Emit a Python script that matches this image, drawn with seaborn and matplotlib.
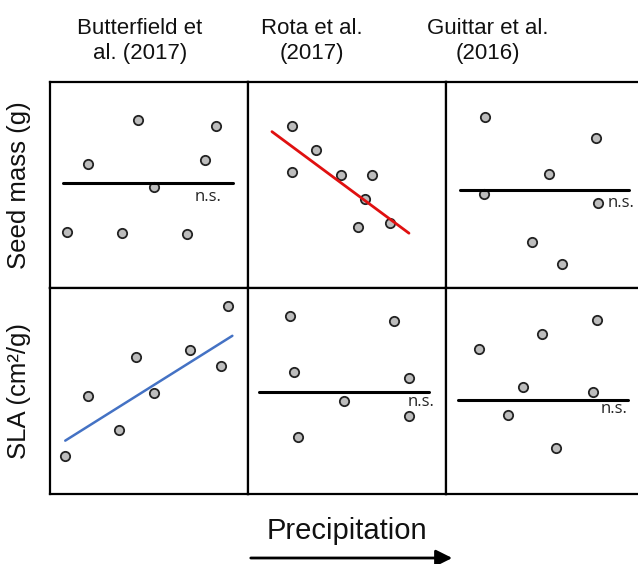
import matplotlib
matplotlib.use("Agg")
import matplotlib.pyplot as plt
import seaborn as sns
import pandas as pd

# ---- data (panel units 0-100 on both axes) ----
studies = ["Butterfield et\nal. (2017)", "Rota et al.\n(2017)", "Guittar et al.\n(2016)"]
traits = ["Seed mass (g)", "SLA (cm²/g)"]
x_label = "Precipitation"

bf_seed_x = [8.4, 19.2, 36.5, 44.6, 52.7, 69.3, 78.3, 83.8]
bf_seed_y = [27.0, 60.2, 26.6, 81.6, 49.2, 26.2, 62.1, 78.8]
rota_seed_x = [22.1, 22.1, 34.5, 47.0, 55.7, 59.3, 62.8, 71.7]
rota_seed_y = [78.8, 56.5, 67.0, 54.9, 29.8, 43.0, 55.0, 31.4]
gu_seed_x = [19.0, 19.9, 43.4, 52.2, 58.6, 75.8, 76.6]
gu_seed_y = [45.5, 83.2, 22.5, 55.3, 11.7, 72.7, 41.1]
bf_sla_x = [7.6, 19.2, 35.0, 43.4, 52.7, 70.7, 86.5, 90.1]
bf_sla_y = [18.4, 47.7, 31.1, 66.3, 49.2, 69.8, 62.1, 91.3]
rota_sla_x = [21.2, 23.4, 25.3, 48.3, 73.9, 81.3, 81.5]
rota_sla_y = [86.4, 59.1, 27.5, 45.3, 84.0, 56.2, 37.9]
gu_sla_x = [16.5, 31.2, 38.7, 48.5, 55.6, 74.1, 76.1]
gu_sla_y = [70.4, 38.5, 51.8, 77.8, 22.5, 49.7, 84.5]

# trend lines (endpoints as read)
bf_seed_line_x = [6.7, 92.6]; bf_seed_line_y = [50.8, 50.8]
rota_seed_line_x = [12.1, 81.3]; rota_seed_line_y = [75.9, 26.6]
gu_seed_line_x = [7.1, 92.3]; gu_seed_line_y = [47.6, 47.6]
bf_sla_line_x = [7.7, 92.1]; bf_sla_line_y = [25.9, 76.8]
rota_sla_line_x = [5.6, 91.6]; rota_sla_line_y = [49.7, 49.7]
gu_sla_line_x = [6.2, 92.1]; gu_sla_line_y = [45.5, 45.5]

# significance labels: (text, x, y) or None
ns_labels = [
    [("n.s.", 73.2, 44.2), None, ("n.s.", 81.8, 41.3)],
    [None, ("n.s.", 80.8, 44.7), ("n.s.", 78.3, 41.3)],
]

points = [
    [(bf_seed_x, bf_seed_y), (rota_seed_x, rota_seed_y), (gu_seed_x, gu_seed_y)],
    [(bf_sla_x, bf_sla_y), (rota_sla_x, rota_sla_y), (gu_sla_x, gu_sla_y)],
]
lines = [
    [(bf_seed_line_x, bf_seed_line_y, "black", 2.2),
     (rota_seed_line_x, rota_seed_line_y, "#e01010", 2.0),
     (gu_seed_line_x, gu_seed_line_y, "black", 2.2)],
    [(bf_sla_line_x, bf_sla_line_y, "#4472c4", 1.8),
     (rota_sla_line_x, rota_sla_line_y, "black", 2.2),
     (gu_sla_line_x, gu_sla_line_y, "black", 2.2)],
]

sns.set_theme(style="white")
plt.rcParams["font.family"] = ["Liberation Sans", "DejaVu Sans"]

W, H = 638, 564
fig = plt.figure(figsize=(W / 100, H / 100), dpi=100)

col_left = [50, 248, 446]
row_top = [82, 288]
pw, ph = 198, 206

for r in range(2):
    for c in range(3):
        ax = fig.add_axes([col_left[c] / W, 1 - (row_top[r] + ph) / H, pw / W, ph / H])
        px, py = points[r][c]
        df = pd.DataFrame({"x": px, "y": py})
        sns.scatterplot(data=df, x="x", y="y", ax=ax, s=45, color="#bdbdbd",
                        edgecolor="#222222", linewidth=1.3, zorder=2)
        lx, ly, lc, lw = lines[r][c]
        ldf = pd.DataFrame({"x": lx, "y": ly})
        sns.lineplot(data=ldf, x="x", y="y", ax=ax, color=lc, linewidth=lw, zorder=3)
        lab = ns_labels[r][c]
        if lab is not None:
            ax.text(lab[1], lab[2], lab[0], fontsize=12, family=["Open Sans", "DejaVu Sans"],
                    ha="left", va="center", color="#222222")
        ax.set_xlim(0, 100)
        ax.set_ylim(0, 100)
        ax.set_xticks([]); ax.set_yticks([])
        ax.set_xlabel(""); ax.set_ylabel("")
        for sp in ax.spines.values():
            sp.set_visible(True)
            sp.set_color("black")
            sp.set_linewidth(1.6)

# column titles
title_x = [140, 312, 488]
for c in range(3):
    fig.text(title_x[c] / W, 1 - 41 / H, studies[c], ha="center", va="center",
             fontsize=16, linespacing=1.3, color="#111111")

# row labels
row_center = [185, 391]
for r in range(2):
    fig.text(19 / W, 1 - row_center[r] / H, traits[r], rotation=90, ha="center",
             va="center", fontsize=18.5, color="#111111")

# x label + arrow
fig.text(347 / W, 1 - 531 / H, x_label, ha="center", va="center", fontsize=21,
         color="#111111")
fig.add_artist(matplotlib.patches.FancyArrowPatch(
    (248 / W, 1 - 558 / H), (455 / W, 1 - 558 / H), transform=fig.transFigure,
    arrowstyle="-|>,head_length=0.7,head_width=0.35", mutation_scale=14,
    color="black", linewidth=2))

fig.savefig("out.png", dpi=100)
